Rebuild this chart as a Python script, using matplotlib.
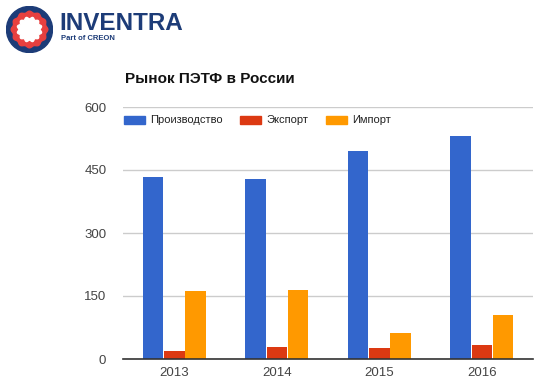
import numpy as np
import matplotlib
matplotlib.use('Agg')
import matplotlib.pyplot as plt
from matplotlib.patches import Circle, Polygon, Rectangle

plt.rcParams['font.family'] = ['Liberation Sans', 'DejaVu Sans']

years = ['2013', '2014', '2015', '2016']
production = [433, 429, 495, 530]
export = [19, 28, 26, 33]
imports = [162, 164, 63, 105]

series_names = ['Производство', 'Экспорт', 'Импорт']
colors = ['#3366cc', '#dc3912', '#ff9900']

fig = plt.figure(figsize=(5.45, 3.92), dpi=100)
ax = fig.add_axes([123 / 545, 1 - 359 / 392, 410 / 545, 252 / 392])

x = np.arange(len(years))
w = 0.2
for i, (vals, c) in enumerate(zip([production, export, imports], colors)):
    ax.bar(x + (i - 1) * 0.208, vals, width=w, color=c, zorder=3)

ax.set_xlim(-0.5, 3.5)
ax.set_ylim(0, 600)
ax.set_yticks([0, 150, 300, 450, 600])
ax.set_xticks(x)
ax.set_xticklabels(years)
ax.tick_params(length=0, labelsize=9.5, colors='#444444', pad=6)
ax.tick_params(axis='y', pad=12)
ax.grid(axis='y', color='#cccccc', lw=1, zorder=0)
for s in ['top', 'right', 'left']:
    ax.spines[s].set_visible(False)
ax.spines['bottom'].set_color('#333333')
ax.spines['bottom'].set_linewidth(1.2)
ax.spines['bottom'].set_zorder(4)

# legend
leg_x = [124, 240, 326]
for lx, name, c in zip(leg_x, series_names, colors):
    fig.patches.append(Rectangle((lx / 545, 1 - 124 / 392), 21 / 545, 8 / 392,
                                 transform=fig.transFigure, color=c))
    fig.text((lx + 26) / 545, 1 - 120 / 392, name, fontsize=8, color='#222222',
             va='center', ha='left')

fig.text(125 / 545, 1 - 79 / 392, 'Рынок ПЭТФ в России', fontsize=11,
         fontweight='bold', color='#111111', va='center', ha='left')

# logo
lax = fig.add_axes([6 / 545, 1 - 53 / 392, 47 / 545, 47 / 392])
lax.set_xlim(-1.02, 1.02)
lax.set_ylim(-1.02, 1.02)
lax.set_aspect('equal')
lax.axis('off')
lax.add_patch(Circle((0, 0), 1.0, color='#1d3c78'))
t = np.linspace(0, 2 * np.pi, 400)
r_out = 0.76 + 0.035 * np.cos(12 * t)
lax.add_patch(Polygon(np.c_[r_out * np.cos(t), r_out * np.sin(t)], color='#e8403f'))
r_in = 0.5 + 0.04 * np.cos(12 * t + np.pi)
lax.add_patch(Polygon(np.c_[r_in * np.cos(t), r_in * np.sin(t)], color='white'))

fig.text(59 / 545, 1 - 23 / 392, 'INVENTRA', fontsize=17.5, fontweight='bold',
         color='#1d3c78', va='center', ha='left')
fig.text(61 / 545, 1 - 38 / 392, 'Part of CREON', fontsize=5.5, fontweight='bold',
         color='#1d3c78', va='center', ha='left')

fig.savefig('out.png', dpi=100)
